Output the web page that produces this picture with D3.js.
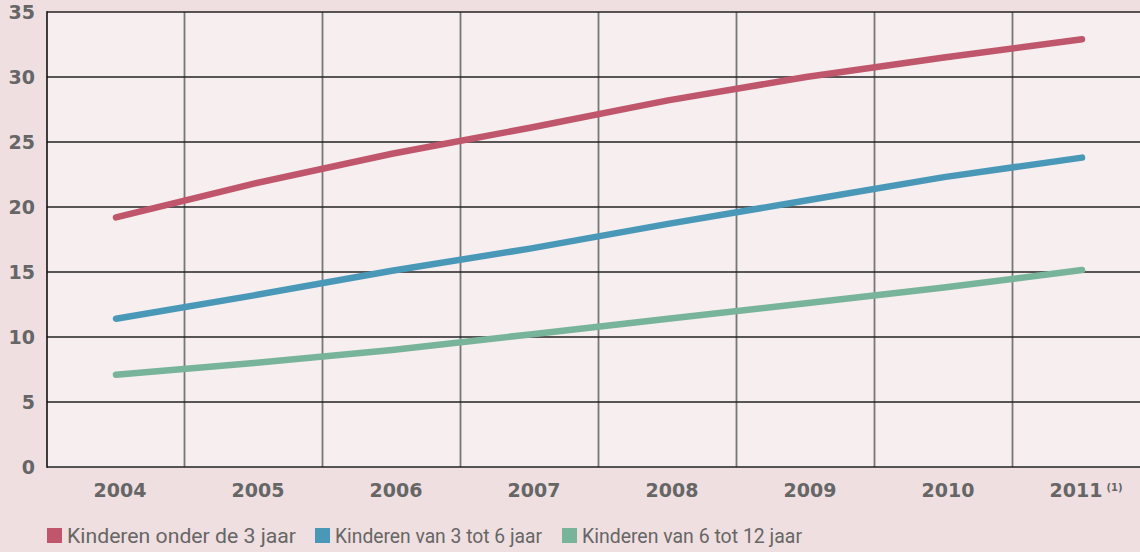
<!DOCTYPE html>
<html><head><meta charset="utf-8">
<script src="https://cdn.jsdelivr.net/npm/d3@7"></script>
<style>
html,body{margin:0;padding:0;background:#efdfe0;}
svg{display:block;}
</style></head>
<body>
<svg id="chart" width="1140" height="552"></svg>
<script>
const years = ["2004","2005","2006","2007","2008","2009","2010","2011"];
const yTicks = [0,5,10,15,20,25,30,35];
const seriesNames = ["Kinderen onder de 3 jaar","Kinderen van 3 tot 6 jaar","Kinderen van 6 tot 12 jaar"];
const seriesColors = ["#c0566c","#4a98b8","#78b49a"];
const under3 = [19.2, 21.8, 24.1, 26.1, 28.2, 30.0, 31.5, 32.9];
const from3to6 = [11.4, 13.2, 15.1, 16.8, 18.7, 20.5, 22.3, 23.8];
const from6to12 = [7.1, 8.0, 9.0, 10.2, 11.4, 12.6, 13.8, 15.15];
const seriesValues = [under3, from3to6, from6to12];

(function(){
const svg = d3.select("#chart");
const W = 1140, H = 552;
const mLeft = 47, mTop = 12, mBottom = 467;
const bandW = 138;
const x = d3.scaleBand().domain(years).range([mLeft, mLeft + bandW*years.length]).padding(0);
const y = d3.scaleLinear().domain([0,35]).range([mBottom, mTop]);

svg.append("rect").attr("x",0).attr("y",0).attr("width",W).attr("height",H).attr("fill","#efdfe0");
svg.append("rect").attr("x",mLeft).attr("y",mTop).attr("width",W-mLeft).attr("height",mBottom-mTop).attr("fill","#f7eeef");

// vertical gridlines (band boundaries)
svg.append("g").selectAll("line").data(years.slice(1)).join("line")
  .attr("x1",d=>x(d)-0.5).attr("x2",d=>x(d)-0.5).attr("y1",mTop).attr("y2",mBottom)
  .attr("stroke","#777").attr("stroke-width",1.8);

// horizontal gridlines
svg.append("g").selectAll("line").data(yTicks).join("line")
  .attr("x1",mLeft).attr("x2",W).attr("y1",d=>y(d)).attr("y2",d=>y(d))
  .attr("stroke","#222").attr("stroke-width",1.4);

// left border
svg.append("line").attr("x1",mLeft).attr("x2",mLeft).attr("y1",mTop-0.7).attr("y2",mBottom+0.7)
  .attr("stroke","#111").attr("stroke-width",1.6);

// y axis labels
const yAxis = d3.axisLeft(y).tickValues(yTicks).tickSize(0).tickPadding(12);
const gy = svg.append("g").attr("transform",`translate(${mLeft},0)`).call(yAxis);
gy.select(".domain").remove();
gy.selectAll("text").attr("fill","#666").style("font-family","'DejaVu Sans', sans-serif")
  .style("font-weight","bold").style("font-size","19px").attr("dy","0.36em");

// x axis labels
const xAxis = d3.axisBottom(x).tickSize(0).tickPadding(17);
const gx = svg.append("g").attr("transform",`translate(4,${mBottom})`).call(xAxis);
gx.select(".domain").remove();
gx.selectAll("text").attr("fill","#666").style("font-family","'DejaVu Sans', sans-serif")
  .style("font-weight","bold").style("font-size","19px");
gx.selectAll(".tick").filter(d=>d==="2011").select("text")
  .append("tspan").attr("dx","4").attr("dy","-6").style("font-size","10px").text("(1)");

// lines
const line = d3.line().x((d,i)=>x(years[i])+x.bandwidth()/2).y(d=>y(d));
svg.append("g").selectAll("path").data(seriesValues).join("path")
  .attr("d",d=>line(d)).attr("fill","none")
  .attr("stroke",(d,i)=>seriesColors[i]).attr("stroke-width",6.5)
  .attr("stroke-linecap","round").attr("stroke-linejoin","round");

// legend
const legendX = [47, 315, 562];
const legendTextW = [229, 207, 220];
const lg = svg.append("g");
seriesNames.forEach((n,i)=>{
  lg.append("rect").attr("x",legendX[i]).attr("y",528).attr("width",15).attr("height",15).attr("fill",seriesColors[i]);
  lg.append("text").attr("x",legendX[i]+20).attr("y",543).text(n)
    .attr("textLength",legendTextW[i]).attr("lengthAdjust","spacingAndGlyphs")
    .attr("fill","#666").style("font-family","Roboto, sans-serif").style("font-size","21px");
});
})();
</script>
</body></html>
